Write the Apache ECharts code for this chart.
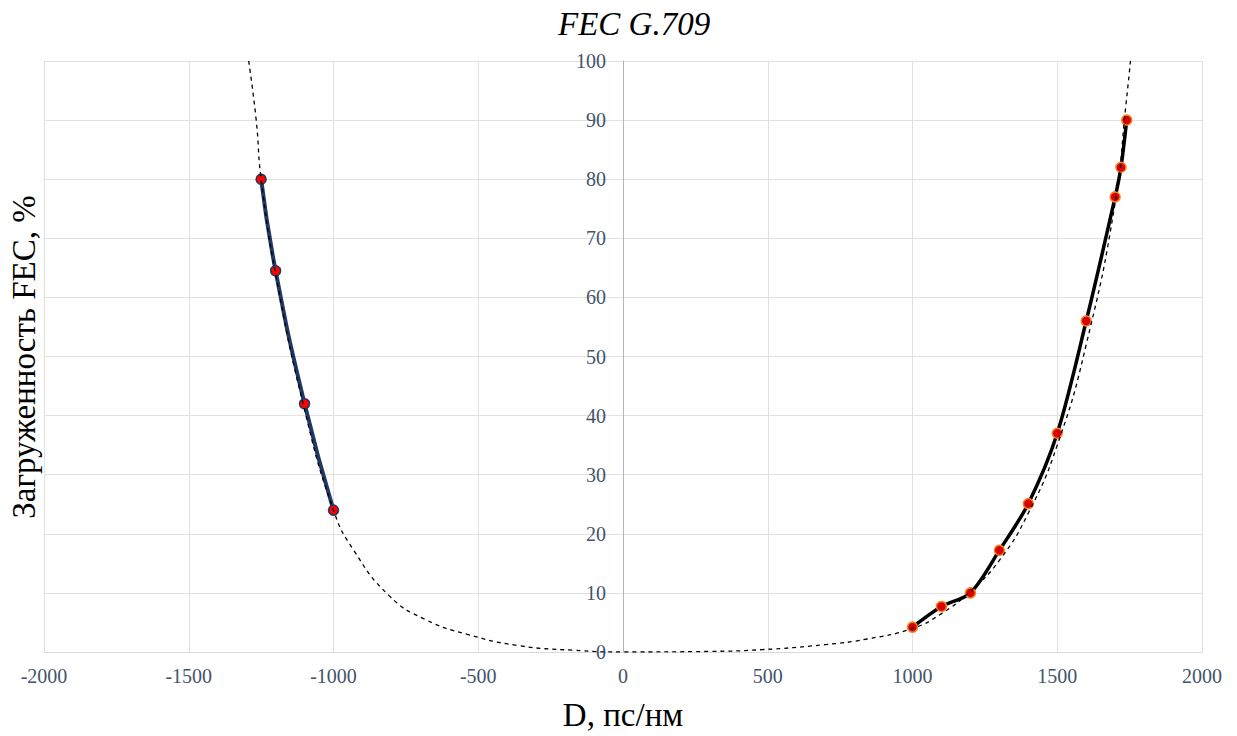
<!DOCTYPE html>
<html><head><meta charset="utf-8">
<script src="https://cdn.jsdelivr.net/npm/echarts@6/dist/echarts.min.js"></script>
<style>html,body{margin:0;padding:0;background:#fff}#c{width:1237px;height:736px}</style>
</head><body><div id="c"></div>
<script>
// Left branch (negative dispersion)
const leftX = [-1250, -1200, -1100, -1000];
const leftY = [80, 64.5, 42, 24];
// Right branch (positive dispersion)
const rightX = [1000, 1100, 1200, 1300, 1400, 1500, 1600, 1700, 1720, 1740];
const rightY = [4.2, 7.7, 10, 17.2, 25.1, 37, 56, 77, 82, 90];
// Dashed trend curve
const trendX = [-1293, -1267, -1250, -1200, -1100, -1000, -930, -807, -683, -538, -363, -174, 0, 300, 480, 698, 843, 1000, 1100, 1200, 1300, 1400, 1500, 1600, 1700, 1736, 1753];
const trendY = [100, 90, 80, 64, 41, 24, 17.2, 9.5, 5.5, 3.0, 1.1, 0.3, 0, 0.1, 0.4, 1.25, 2.2, 4.0, 6.5, 10.3, 15.5, 23.5, 35, 52, 76, 92, 100];
const xTicks = [-2000, 2000, 500];
const yTicks = [0, 100, 10];

const zip = (a, b) => a.map((v, i) => [v, b[i]]);

const W = 1237, H = 736;
const gridL = 44, gridR = 35;
const chart = echarts.init(document.getElementById('c'), null, {renderer: 'svg', width: W, height: H});
chart.setOption({
  animation: false,
  backgroundColor: '#fff',
  title: {
    text: 'FEC G.709', left: 553, top: 2,
    textStyle: {fontFamily: 'Liberation Serif', fontStyle: 'italic', fontWeight: 'normal', fontSize: 33, color: '#000'}
  },
  grid: {left: gridL, right: gridR, top: 61, bottom: 80},
  xAxis: {
    type: 'value', min: xTicks[0], max: xTicks[1], interval: xTicks[2],
    name: 'D, пс/нм', nameLocation: 'middle', nameGap: 46,
    nameTextStyle: {fontFamily: 'Liberation Serif', fontSize: 33, color: '#000'},
    axisLine: {show: true, onZero: false, lineStyle: {color: '#d5d9e0', width: 1}},
    axisTick: {show: false},
    axisLabel: {margin: 14, fontFamily: 'Liberation Serif', fontSize: 20, color: '#44546A',
      formatter: v => String(v)},
    splitLine: {show: true, lineStyle: {color: '#e1e1e1', width: 1}}
  },
  yAxis: {
    type: 'value', min: yTicks[0], max: yTicks[1], interval: yTicks[2],
    position: 'left', offset: -(W - gridL - gridR) / 2,
    axisLine: {show: true, onZero: false, lineStyle: {color: '#a9b4c6', width: 1}},
    axisTick: {show: false},
    axisLabel: {margin: 17, fontFamily: 'Liberation Serif', fontSize: 20, color: '#44546A'},
    splitLine: {show: true, lineStyle: {color: '#e1e1e1', width: 1}}
  },
  graphic: [{
    type: 'text', x: 24, y: 357, rotation: Math.PI / 2,
    style: {text: 'Загруженность FEC, %', font: '33px "Liberation Serif"', fill: '#000',
      textAlign: 'center', textVerticalAlign: 'middle'}
  }],
  series: [
    {
      type: 'line', data: zip(leftX, leftY), smooth: true, z: 2,
      lineStyle: {color: '#1F3864', width: 4},
      symbol: 'circle', symbolSize: 10,
      itemStyle: {color: '#FF0000', borderColor: '#1F3864', borderWidth: 1.5}
    },
    {
      type: 'line', data: zip(rightX, rightY), smooth: 0.3, z: 2,
      lineStyle: {color: '#000', width: 3.5},
      symbol: 'circle', symbolSize: 10,
      itemStyle: {color: '#D90000', borderColor: '#F4801F', borderWidth: 1.5}
    },
    {
      type: 'line', data: zip(trendX, trendY), smooth: true, z: 3, symbol: 'none',
      lineStyle: {color: '#000', width: 1.3, type: [4, 4]}
    }
  ]
});
</script></body></html>
